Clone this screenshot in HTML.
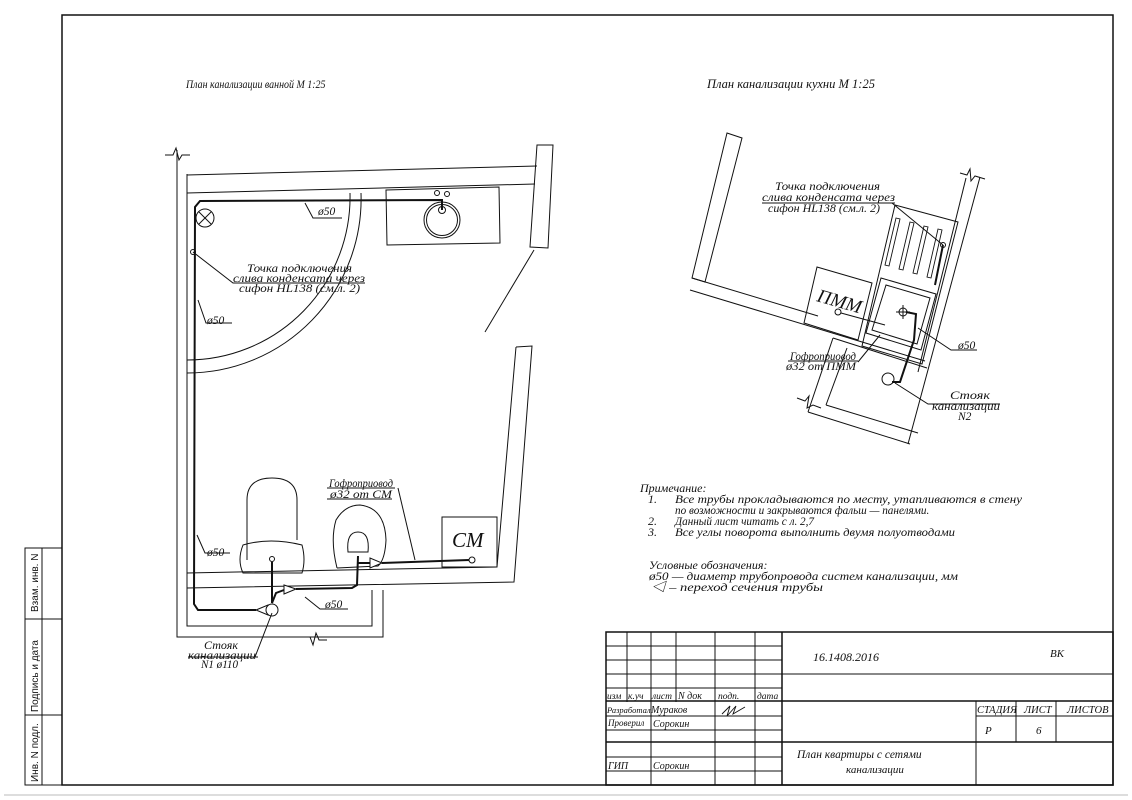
<!DOCTYPE html>
<html><head><meta charset="utf-8"><style>
html,body{margin:0;padding:0;background:#fff;}
svg{display:block;}
text{font-family:"Liberation Serif","Noto Serif CJK SC",serif;font-style:italic;fill:#111;}
text.s{font-family:"Liberation Sans","DejaVu Sans",sans-serif;font-style:normal;}
</style></head><body>
<svg width="1132" height="800" viewBox="0 0 1132 800" xmlns="http://www.w3.org/2000/svg">
<g fill="none" stroke="#111" stroke-width="1">
<rect x="62" y="15" width="1051" height="770" stroke-width="1.5"/>
<rect x="25" y="548" width="37" height="237"/>
<line x1="42" y1="548" x2="42" y2="785"/>
<line x1="25" y1="619" x2="62" y2="619"/>
<line x1="25" y1="715" x2="62" y2="715"/>
<line x1="4" y1="795" x2="1128" y2="795" stroke="#bbb"/>

<rect x="606" y="632" width="507" height="153" stroke-width="1.5"/>
<g>
<line x1="627" y1="632" x2="627" y2="702"/>
<line x1="651" y1="632" x2="651" y2="785"/>
<line x1="676" y1="632" x2="676" y2="702"/>
<line x1="715" y1="632" x2="715" y2="785"/>
<line x1="755" y1="632" x2="755" y2="785"/>
<line x1="782" y1="632" x2="782" y2="785" stroke-width="1.5"/>
<line x1="606" y1="646" x2="782" y2="646"/>
<line x1="606" y1="660" x2="782" y2="660"/>
<line x1="606" y1="674" x2="1113" y2="674"/>
<line x1="606" y1="688" x2="782" y2="688"/>
<line x1="606" y1="701" x2="1113" y2="701" stroke-width="1.5"/>
<line x1="606" y1="716" x2="782" y2="716"/>
<line x1="976" y1="716" x2="1113" y2="716"/>
<line x1="606" y1="730" x2="782" y2="730"/>
<line x1="606" y1="742" x2="1113" y2="742" stroke-width="1.5"/>
<line x1="606" y1="757" x2="782" y2="757"/>
<line x1="606" y1="771" x2="782" y2="771"/>
<line x1="976" y1="701" x2="976" y2="785"/>
<line x1="1016" y1="701" x2="1016" y2="742"/>
<line x1="1056" y1="701" x2="1056" y2="742"/>
</g>
<path d="M722 714 l8 -8 l-3 10 l9 -10 l-3 8 l12 -7" stroke-width="0.9"/>

<!-- Bathroom -->
<polyline points="177,150 177,637 383,637 383,590"/>
<polyline points="187,174 187,626 372,626 372,590"/>
<path d="M165 155 L173 155 L176 148 L179 160 L182 155 L190 155"/>
<path d="M305 637 l5 0 l3 8 l3 -12 l3 7 l8 0" />
<line x1="187" y1="175" x2="537" y2="166"/>
<line x1="187" y1="193" x2="535" y2="184"/>
<polygon points="537,145 553,145 548,248 530,247"/>
<line x1="534" y1="250" x2="485" y2="332"/>
<polyline points="516,347 532,346 514,582 187,588"/>
<polyline points="516,347 497,567 187,573"/>
<path d="M350 193 A163 163 0 0 1 187 360"/>
<path d="M361 193 A174 174 0 0 1 187 373"/>
<circle cx="205" cy="218" r="9"/>
<line x1="199" y1="212" x2="211" y2="224"/><line x1="211" y1="212" x2="199" y2="224"/>
<polygon points="386,190 499,187 500,243 387,245"/>
<circle cx="442" cy="220" r="18"/><circle cx="442" cy="220" r="15.5"/>
<circle cx="442" cy="210" r="3.5"/>
<circle cx="437" cy="193" r="2.5"/><circle cx="447" cy="194" r="2.5"/>
<path d="M247 560 L247 500 Q247 478 272 478 Q297 478 297 500 L297 540"/>
<path d="M243 545 Q270 537 302 545 Q306 560 302 573 L243 573 Q237 560 243 545Z"/>
<circle cx="272" cy="559" r="2.5"/>
<path d="M337 568 Q330 540 336 520 Q345 505 360 505 Q385 508 386 540 Q385 560 378 566 L337 568"/>
<path d="M348 552 Q346 532 358 532 Q370 532 368 552 Z"/>
<rect x="442" y="517" width="55" height="50"/>
<circle cx="472" cy="560" r="3"/>
<g stroke-width="2">
<polyline points="442,210 442,200 200,201 195,207 194,604 198,610 256,610"/>
<polyline points="272,562 272,603"/>
<polyline points="272,603 276,593 284,590"/>
<polyline points="296,589 352,588 357,585 358,556"/>
<polyline points="358,563 370,563"/>
<polyline points="382,563 469,560"/>
</g>
<path d="M256 610 L268 605 L268 615 Z" fill="#fff"/>
<path d="M296 589 L284 585 L284 594 Z" fill="#fff"/>
<path d="M382 563 L370 558 L370 568 Z" fill="#fff"/>
<circle cx="272" cy="610" r="6" fill="#fff"/>
<circle cx="193" cy="252" r="2.5"/>
<polyline points="305,203 313,218 342,218"/>
<polyline points="193,252 233,283 365,283"/>
<polyline points="198,300 206,323 232,323"/>
<polyline points="197,535 205,553 230,553"/>
<polyline points="305,597 320,609 348,609"/>
<polyline points="398,488 415,560"/>
<line x1="327" y1="488" x2="395" y2="488"/>
<line x1="327" y1="499" x2="392" y2="499"/>
<polyline points="272,613 255,657"/>
<line x1="188" y1="657" x2="258" y2="657"/>

<!-- Kitchen -->
<polygon points="727,133 742,138 705,282 692,278"/>
<line x1="692" y1="278" x2="818" y2="316"/>
<line x1="690" y1="290" x2="925" y2="361"/>
<line x1="833" y1="338" x2="927" y2="368"/>
<line x1="833" y1="338" x2="808" y2="412"/>
<line x1="847" y1="348" x2="826" y2="405"/>
<line x1="826" y1="405" x2="918" y2="433"/>
<line x1="808" y1="412" x2="910" y2="444"/>
<path d="M797 398 l8 3 l4 -5 l-2 12 l6 -3 l8 3"/>
<line x1="980" y1="177" x2="908" y2="444"/>
<line x1="966" y1="178" x2="918" y2="372"/>
<path d="M960 173 l7 2 l3 -6 l1 12 l4 -5 l10 3"/>
<polygon points="895,205 958,222 922,364 862,346"/>
<g stroke-width="0.9">
<polygon points="896,218 900,219 889,266 885,265"/>
<polygon points="910,222 914,223 903,270 899,269"/>
<polygon points="924,226 928,227 917,274 913,273"/>
<polygon points="938,229 942,230 931,278 927,277"/>
</g>
<polygon points="881,278 936,294 921,350 866,333" />
<polygon points="886,285 930,298 917,344 872,330"/>
<circle cx="903" cy="312" r="4"/>
<line x1="896" y1="312" x2="910" y2="312"/><line x1="903" y1="305" x2="903" y2="319"/>
<polygon points="817,267 872,283 858,340 804,323"/>
<circle cx="838" cy="312" r="3"/>
<line x1="841" y1="313" x2="885" y2="325"/>
<polyline points="906,312 916,314 914,340 900,382 892,382" stroke-width="2"/>
<polyline points="943,245 935,285" stroke-width="2"/>
<circle cx="943" cy="245" r="2.5"/>
<circle cx="888" cy="379" r="6"/>
<line x1="762" y1="203" x2="895" y2="203"/>
<polyline points="892,203 943,245"/>
<polyline points="918,328 951,350 977,350"/>
<polyline points="895,383 928,404 1000,404"/>
<polyline points="880,335 858,362"/>
<line x1="788" y1="361" x2="858" y2="361"/>
</g>

<!-- texts -->
<text transform="translate(186 88) scale(0.83 1)" font-size="12">План  канализации  ванной  М  1:25</text>
<text x="707" y="88" font-size="12.5">План  канализации  кухни  М  1:25</text>
<g font-size="11.5">
<text x="318" y="215">ø50</text>
<text x="207" y="324">ø50</text>
<text x="207" y="556">ø50</text>
<text x="325" y="608">ø50</text>
<text x="247" y="272" textLength="105" lengthAdjust="spacingAndGlyphs">Точка  подключения</text>
<text x="233" y="282" textLength="132" lengthAdjust="spacingAndGlyphs">слива  конденсата  через</text>
<text x="239" y="292" textLength="121" lengthAdjust="spacingAndGlyphs">сифон  HL138  (см.л.  2)</text>
<text x="329" y="487" textLength="64" lengthAdjust="spacingAndGlyphs">Гофроприовод</text>
<text x="330" y="498" textLength="62" lengthAdjust="spacingAndGlyphs">ø32  от  СМ</text>
<text x="204" y="649" textLength="34" lengthAdjust="spacingAndGlyphs">Стояк</text>
<text x="188" y="659" textLength="68" lengthAdjust="spacingAndGlyphs">канализации</text>
<text x="201" y="668" textLength="37" lengthAdjust="spacingAndGlyphs">N1  ø110</text>
<text x="775" y="190" textLength="105" lengthAdjust="spacingAndGlyphs">Точка  подключения</text>
<text x="762" y="201" textLength="133" lengthAdjust="spacingAndGlyphs">слива  конденсата  через</text>
<text x="768" y="212" textLength="112" lengthAdjust="spacingAndGlyphs">сифон  HL138  (см.л.  2)</text>
<text x="958" y="349">ø50</text>
<text x="790" y="360" textLength="66" lengthAdjust="spacingAndGlyphs">Гофроприовод</text>
<text x="786" y="370" textLength="70" lengthAdjust="spacingAndGlyphs">ø32  от  ПММ</text>
<text x="950" y="399" textLength="40" lengthAdjust="spacingAndGlyphs">Стояк</text>
<text x="932" y="410" textLength="68" lengthAdjust="spacingAndGlyphs">канализации</text>
<text x="958" y="420">N2</text>
</g>
<text x="452" y="547" font-size="21">СМ</text>
<text x="816" y="301" font-size="19" transform="rotate(16 816 301)">ПММ</text>
<g font-size="12">
<text x="640" y="492">Примечание:</text>
<text x="648" y="503">1.</text><text x="675" y="503" textLength="347" lengthAdjust="spacingAndGlyphs">Все  трубы  прокладываются  по  месту,  утапливаются  в  стену</text>
<text x="675" y="514" font-size="11.2">по  возможности  и  закрываются  фальш  —  панелями.</text>
<text x="648" y="525">2.</text><text x="675" y="525" font-size="11.2">Данный  лист  читать  с  л.  2,7</text>
<text x="648" y="536">3.</text><text x="675" y="536" textLength="280" lengthAdjust="spacingAndGlyphs">Все  углы  поворота  выполнить  двумя  полуотводами</text>
<text x="649" y="569">Условные  обозначения:</text>
<text x="649" y="580" textLength="309" lengthAdjust="spacingAndGlyphs">ø50  —  диаметр  трубопровода  систем  канализации,  мм</text>
<text x="651" y="591" textLength="172" lengthAdjust="spacingAndGlyphs">◁ –      переход  сечения  трубы</text>
</g>
<g font-size="11">
<text x="813" y="661" font-size="12" textLength="66" lengthAdjust="spacingAndGlyphs">16.1408.2016</text>
<text x="1050" y="657">ВК</text>
<text x="607" y="699" font-size="9.5">изм</text>
<text x="628" y="699" font-size="9.5">к.уч</text>
<text x="652" y="699" font-size="9.5">лист</text>
<text x="678" y="699" font-size="10">N  док</text>
<text x="718" y="699" font-size="9.5">подп.</text>
<text x="757" y="699" font-size="9.5">дата</text>
<text x="607" y="713" font-size="8.5">Разработал</text>
<text x="651" y="713" font-size="10">Мураков</text>
<text x="608" y="726" font-size="9">Проверил</text>
<text x="653" y="727" font-size="10">Сорокин</text>
<text x="608" y="769" font-size="10">ГИП</text>
<text x="653" y="769" font-size="10">Сорокин</text>
<text x="977" y="713" font-size="10.5">СТАДИЯ</text>
<text x="1024" y="713" font-size="10.5">ЛИСТ</text>
<text x="1067" y="713" font-size="10.5">ЛИСТОВ</text>
<text x="985" y="734">Р</text>
<text x="1036" y="734">6</text>
<text x="797" y="758" font-size="11.5">План    квартиры  с  сетями</text>
<text x="846" y="773" font-size="11">канализации</text>
</g>
<text class="s" transform="translate(38 782) rotate(-90)" font-size="10">Инв. N  подл.</text>
<text class="s" transform="translate(38 712) rotate(-90)" font-size="10">Подпись  и  дата</text>
<text class="s" transform="translate(38 612) rotate(-90)" font-size="10">Взам.  инв.  N</text>
</svg>
</body></html>
